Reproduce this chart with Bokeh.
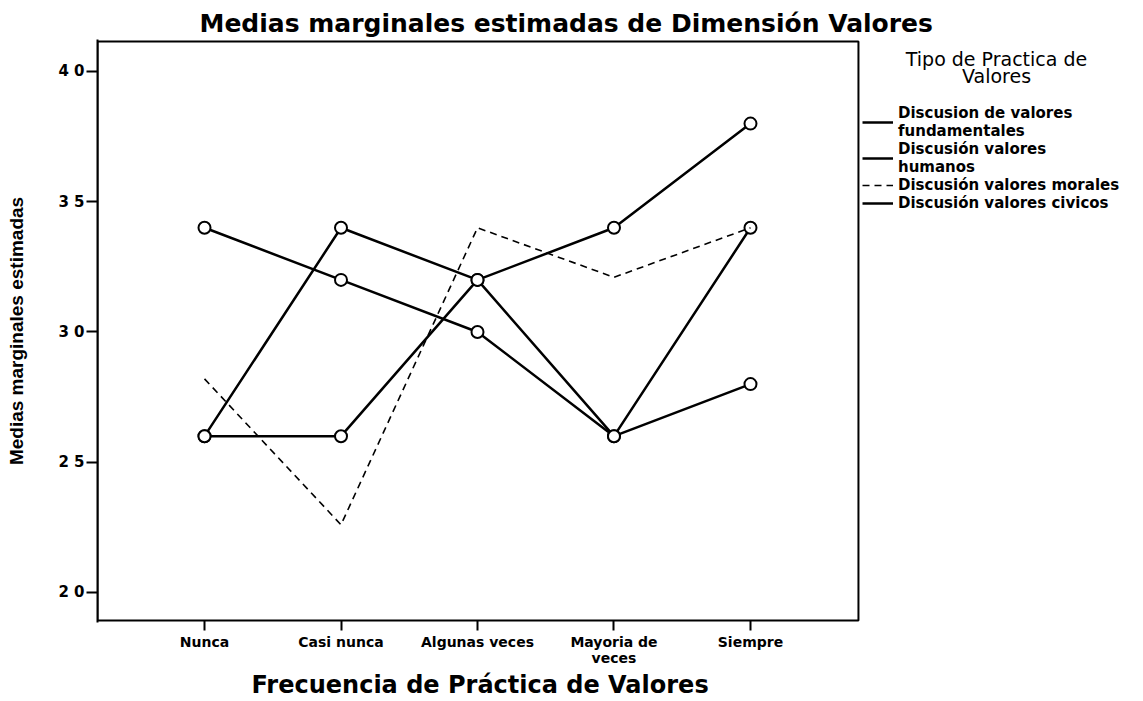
from bokeh.plotting import figure
from bokeh.models import Legend, LegendItem, FixedTicker, Range1d, BoxAnnotation, Title, Label
from bokeh.embed import file_html
from bokeh.resources import INLINE

categories = ["Nunca", "Casi nunca", "Algunas veces", "Mayoria de\nveces", "Siempre"]
y_ticks = [2.0, 2.5, 3.0, 3.5, 4.0]
y_tick_labels = ["2 0", "2 5", "3 0", "3 5", "4 0"]

legend_title = ["Tipo de Practica de", "Valores"]
series_names = ["Discusion de valores\nfundamentales", "Discusión valores\nhumanos",
                "Discusión valores morales", "Discusión valores civicos"]
fundamentales = [3.4, 3.2, 3.0, 2.6, 2.8]
humanos = [2.6, 3.4, 3.2, 2.6, 3.4]
morales = [2.82, 2.26, 3.4, 3.21, 3.4]
civicos = [2.6, 2.6, 3.2, 3.4, 3.8]

# plot box (axis extent) in data units
box_x = (-0.784, 4.791)
box_y = (1.8925, 4.115)

NARROW = "Liberation Sans"
WIDE = "DejaVu Sans"
xs = list(range(len(categories)))

p = figure(width=1142, height=701, output_backend="svg", toolbar_location=None,
           x_range=Range1d(-0.784, 6.872), y_range=Range1d(1.8848, 4.1228),
           min_border_left=97, min_border_right=0, min_border_top=39, min_border_bottom=79)
p.xgrid.visible = False
p.ygrid.visible = False
p.outline_line_color = None

p.add_layout(BoxAnnotation(left=box_x[0], right=box_x[1], bottom=box_y[0], top=box_y[1],
                           fill_alpha=0, line_color="black", line_width=2, line_alpha=1))

p.title.text = "Medias marginales estimadas de Dimensión Valores"
p.title.text_font = WIDE
p.title.text_font_size = "25px"
p.title.text_font_style = "bold"
p.title.text_color = "black"
p.title.align = "left"
p.title.offset = 102
p.title.standoff = 3

p.xaxis.ticker = FixedTicker(ticks=xs)
p.xaxis.major_label_overrides = {i: c for i, c in enumerate(categories)}
p.yaxis.ticker = FixedTicker(ticks=y_ticks)
p.yaxis.major_label_overrides = {t: l for t, l in zip(y_ticks, y_tick_labels)}

for ax in (p.xaxis[0], p.yaxis[0]):
    ax.axis_line_width = 2
    ax.axis_line_color = "black"
    ax.major_tick_line_width = 2
    ax.major_tick_line_color = "black"
    ax.minor_tick_line_color = None
    ax.major_tick_in = 0
    ax.major_label_text_font = WIDE
    ax.major_label_text_font_style = "bold"
    ax.major_label_text_color = "black"
    ax.axis_label_text_font_style = "bold"
    ax.axis_label_text_color = "black"
p.xaxis.axis_line_color = None
p.xaxis.major_tick_in = 2
p.xaxis.major_label_text_font_size = "14px"
p.xaxis.major_label_text_line_height = 1.0
p.yaxis.major_label_text_font_size = "15px"
p.xaxis.major_tick_out = 8
p.yaxis.major_tick_out = 11
p.xaxis.major_label_standoff = 3
p.yaxis.major_label_standoff = 2
p.yaxis.axis_label = "Medias marginales estimadas"
p.yaxis.axis_label_text_font = NARROW
p.yaxis.axis_label_text_font_size = "19px"
p.yaxis.axis_label_standoff = 28

xtitle = Title(text="Frecuencia de Práctica de Valores", align="left", offset=154,
               text_font=WIDE, text_font_size="24px", text_font_style="bold",
               text_color="black", standoff=1)
p.add_layout(xtitle, "below")

items = []
data = [fundamentales, humanos, morales, civicos]
for name, vals in zip(series_names, data):
    if "morales" in name:
        r = p.line(xs, vals, line_color="black", line_width=1.6, line_dash="7 5")
    else:
        r = p.line(xs, vals, line_color="black", line_width=2.5)
        p.scatter(xs, vals, marker="circle", size=12, fill_color="white",
                  line_color="black", line_width=2)
    items.append(LegendItem(label=name, renderers=[r]))

legend = Legend(items=items, location=(765, 410),
                label_text_font=WIDE, label_text_font_style="bold", label_text_font_size="15px",
                label_text_color="black", label_text_line_height=0.95,
                glyph_width=31, glyph_height=14, label_standoff=5, spacing=0,
                padding=0, margin=0, border_line_color=None, background_fill_alpha=0,
                label_height=14)
p.add_layout(legend)

for txt, sy in zip(legend_title, [564, 547]):
    p.add_layout(Label(x=996 - 97, y=sy, x_units="screen", y_units="screen", text=txt,
                       text_align="center", text_baseline="alphabetic",
                       text_font=WIDE, text_font_size="19px", text_color="black"))

open("out.html", "w").write(file_html(p, INLINE))
